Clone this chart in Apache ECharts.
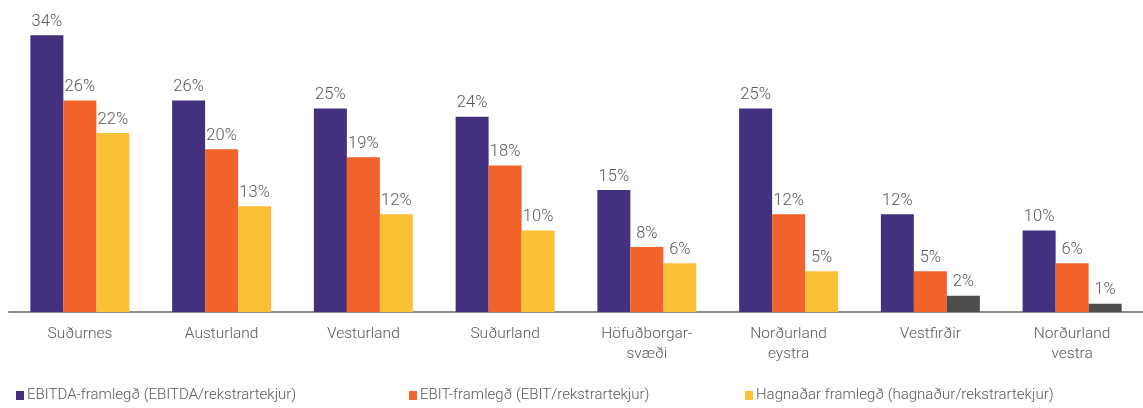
<!DOCTYPE html>
<html>
<head>
<meta charset="utf-8">
<script src="https://cdn.jsdelivr.net/npm/echarts@6/dist/echarts.min.js"></script>
<style>
  html, body { margin: 0; padding: 0; background: #ffffff; }
  #chart { width: 1143px; height: 408px; }
</style>
</head>
<body>
<div id="chart"></div>
<script>
// Landshlutar
const categories = ['Suðurnes', 'Austurland', 'Vesturland', 'Suðurland', 'Höfuðborgar-\nsvæði', 'Norðurland\neystra', 'Vestfirðir', 'Norðurland\nvestra'];

// Framlegð í % af rekstrartekjum
const ebitdaMargin = [34, 26, 25, 24, 15, 25, 12, 10];
const ebitMargin   = [26, 20, 19, 18, 8, 12, 5, 6];
const profitMargin = [22, 13, 12, 10, 6, 5, 2, 1];

const seriesNames = [
  'EBITDA-framlegð (EBITDA/rekstrartekjur)',
  'EBIT-framlegð (EBIT/rekstrartekjur)',
  'Hagnaðar framlegð (hagnaður/rekstrartekjur)'
];

const FONT = 'Roboto, "Liberation Sans", sans-serif';
const WEIGHT = 300;
const TEXT = '#595959';
const PURPLE = '#433180';
const ORANGE = '#F2632C';
const YELLOW = '#FBC136';
const DARK = '#4D4D4D';

// Low-profit regions are drawn in dark grey
const profitColors = profitMargin.map((v, i) => (i >= 6 ? DARK : YELLOW));

const valueLabel = {
  show: true,
  position: 'top',
  distance: 5,
  formatter: '{c}%',
  color: TEXT,
  fontFamily: FONT,
  fontWeight: WEIGHT,
  fontSize: 16.5
};

function legendAt(left, name) {
  return {
    data: [name],
    left: left,
    top: 388,
    itemWidth: 8,
    itemHeight: 9,
    itemGap: 0,
    icon: 'rect',
    selectedMode: false,
    textStyle: { color: TEXT, fontFamily: FONT, fontWeight: WEIGHT, fontSize: 15, padding: [0, 0, 0, -2] },
    padding: 0
  };
}

const chart = echarts.init(document.getElementById('chart'), null, { renderer: 'canvas' });

chart.setOption({
  animation: false,
  backgroundColor: '#ffffff',
  grid: { left: 9, width: 1140, top: 19, height: 293, containLabel: false },
  legend: [
    legendAt(16, seriesNames[0]),
    legendAt(409, seriesNames[1]),
    legendAt(745, seriesNames[2])
  ],
  xAxis: {
    type: 'category',
    data: categories,
    axisLine: { show: true, lineStyle: { color: '#8C8C8C', width: 2 } },
    axisTick: { show: false },
    axisLabel: {
      color: TEXT,
      fontFamily: FONT,
      fontWeight: WEIGHT,
      fontSize: 15.5,
      lineHeight: 20,
      margin: 12,
      interval: 0
    }
  },
  yAxis: {
    type: 'value',
    min: 0,
    max: 36,
    show: false,
    splitLine: { show: false }
  },
  series: [
    {
      name: seriesNames[0],
      type: 'bar',
      data: ebitdaMargin,
      barWidth: 33,
      barGap: '0%',
      itemStyle: { color: PURPLE },
      label: valueLabel
    },
    {
      name: seriesNames[1],
      type: 'bar',
      data: ebitMargin,
      barWidth: 33,
      barGap: '0%',
      itemStyle: { color: ORANGE },
      label: valueLabel
    },
    {
      name: seriesNames[2],
      type: 'bar',
      data: profitMargin.map((v, i) => ({ value: v, itemStyle: { color: profitColors[i] } })),
      barWidth: 33,
      barGap: '0%',
      itemStyle: { color: YELLOW },
      label: valueLabel
    }
  ]
});
</script>
</body>
</html>
